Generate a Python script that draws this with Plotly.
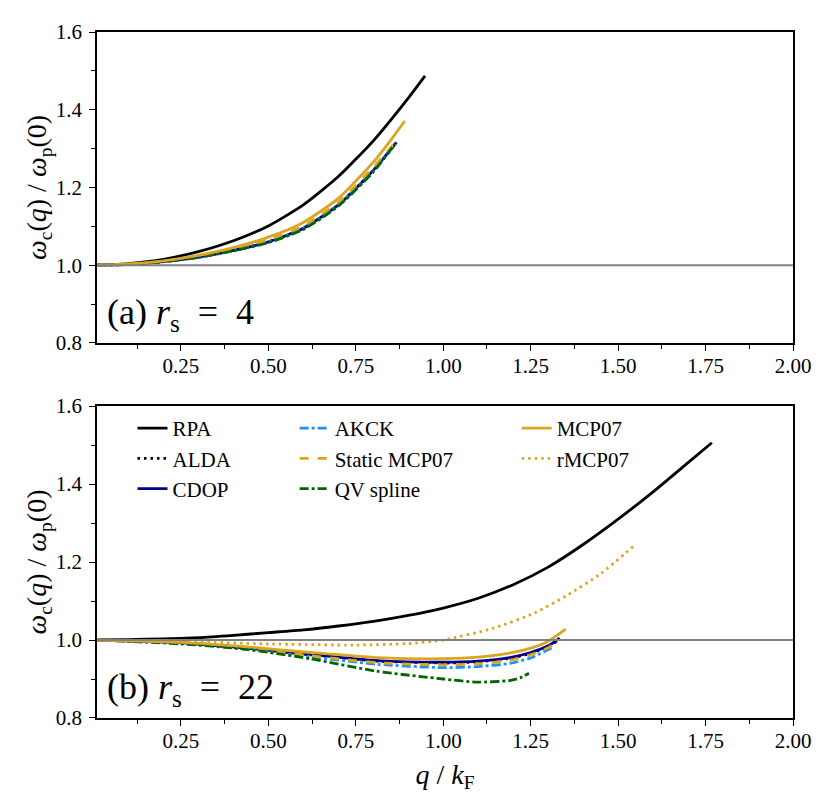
import plotly.graph_objects as go

# ---- panel (a): r_s = 4 ----
q_rpa_a = [0.01, 0.1, 0.2, 0.3, 0.4, 0.5, 0.6, 0.7, 0.8, 0.9, 0.948]
w_rpa_a = [1.0, 1.004, 1.015, 1.035, 1.063, 1.101, 1.155, 1.228, 1.32, 1.43, 1.487]

q_alda_a = [0.01, 0.1, 0.2, 0.3, 0.4, 0.5, 0.6, 0.7, 0.8, 0.865]
w_alda_a = [1.0, 1.002, 1.009, 1.021, 1.038, 1.06, 1.095, 1.155, 1.244, 1.314]

q_cdop_a = [0.01, 0.1, 0.2, 0.3, 0.4, 0.5, 0.6, 0.7, 0.8, 0.866]
w_cdop_a = [1.0, 1.002, 1.009, 1.021, 1.038, 1.06, 1.095, 1.155, 1.244, 1.316]

q_akck_a = [0.01, 0.1, 0.2, 0.3, 0.4, 0.5, 0.6, 0.7, 0.8, 0.862]
w_akck_a = [1.0, 1.002, 1.009, 1.02, 1.038, 1.059, 1.094, 1.154, 1.242, 1.312]

q_smcp_a = [0.01, 0.1, 0.2, 0.3, 0.4, 0.5, 0.6, 0.7, 0.8, 0.867]
w_smcp_a = [1.0, 1.003, 1.01, 1.023, 1.041, 1.065, 1.101, 1.162, 1.252, 1.32]

q_qv_a = [0.01, 0.1, 0.2, 0.3, 0.4, 0.5, 0.6, 0.7, 0.8, 0.862]
w_qv_a = [1.0, 1.002, 1.009, 1.02, 1.037, 1.058, 1.092, 1.152, 1.24, 1.312]

q_mcp_a = [0.01, 0.1, 0.2, 0.3, 0.4, 0.5, 0.6, 0.7, 0.8, 0.85, 0.89]
w_mcp_a = [1.0, 1.003, 1.011, 1.025, 1.045, 1.072, 1.11, 1.172, 1.265, 1.322, 1.371]

# ---- panel (b): r_s = 22 ----
q_rpa_b = [0.01, 0.1, 0.2, 0.3, 0.4, 0.5, 0.6, 0.7, 0.8, 0.9, 1.0, 1.1, 1.2,
           1.3, 1.4, 1.5, 1.6, 1.7, 1.768]
w_rpa_b = [1.0, 1.001, 1.003, 1.006, 1.012, 1.019, 1.026, 1.036, 1.048, 1.063,
           1.082, 1.107, 1.142, 1.187, 1.245, 1.31, 1.38, 1.455, 1.506]

q_alda_b = [0.01, 0.25, 0.43, 0.62, 0.81, 1.0, 1.1, 1.19, 1.25, 1.3, 1.33]
w_alda_b = [1.0, 0.993, 0.979, 0.962, 0.946, 0.941, 0.944, 0.953, 0.966, 0.983, 1.0]

q_cdop_b = [0.01, 0.25, 0.43, 0.62, 0.81, 1.0, 1.1, 1.19, 1.25, 1.3, 1.333]
w_cdop_b = [1.0, 0.993, 0.98, 0.963, 0.947, 0.943, 0.946, 0.955, 0.968, 0.985, 1.005]

q_akck_b = [0.01, 0.25, 0.43, 0.62, 0.81, 1.0, 1.1, 1.19, 1.25, 1.31]
w_akck_b = [1.0, 0.992, 0.977, 0.957, 0.938, 0.929, 0.932, 0.94, 0.954, 0.98]

q_smcp_b = [0.01, 0.25, 0.43, 0.62, 0.81, 1.0, 1.1, 1.19, 1.25, 1.3, 1.325]
w_smcp_b = [1.0, 0.992, 0.978, 0.96, 0.942, 0.936, 0.939, 0.948, 0.962, 0.98, 0.995]

q_qv_b = [0.01, 0.25, 0.43, 0.62, 0.81, 1.0, 1.095, 1.19, 1.22, 1.245]
w_qv_b = [1.0, 0.99, 0.977, 0.952, 0.92, 0.90, 0.892, 0.896, 0.903, 0.915]

q_mcp_b = [0.01, 0.25, 0.43, 0.62, 0.81, 1.0, 1.1, 1.2, 1.25, 1.3, 1.35]
w_mcp_b = [1.0, 0.994, 0.983, 0.968, 0.955, 0.952, 0.956, 0.968, 0.979, 0.997, 1.028]

q_rmcp_b = [0.01, 0.25, 0.5, 0.75, 0.9, 1.0, 1.146, 1.26, 1.355, 1.45, 1.55]
w_rmcp_b = [1.0, 0.996, 0.99, 0.987, 0.991, 1.0, 1.031, 1.069, 1.115, 1.17, 1.245]

x_ticks = [0.25, 0.5, 0.75, 1.0, 1.25, 1.5, 1.75, 2.0]
y_ticks = [0.8, 1.0, 1.2, 1.4, 1.6]

SERIF = "Liberation Serif"
GOLD = "#DAA520"

# name -> (colour, dash, legend, rank)
styles = {
    "RPA": ("black", "solid", "legend", 1),
    "ALDA": ("black", "2.5px,4px", "legend", 2),
    "CDOP": ("#00008B", "solid", "legend", 3),
    "AKCK": ("#1E90FF", "dashdot", "legend2", 1),
    "Static MCP07": (GOLD, "dash", "legend2", 2),
    "QV spline": ("#006400", "dashdot", "legend2", 3),
    "MCP07": (GOLD, "solid", "legend3", 1),
    "rMCP07": (GOLD, "2.5px,4px", "legend3", 2),
}

panel_a = [
    ("RPA", q_rpa_a, w_rpa_a), ("ALDA", q_alda_a, w_alda_a),
    ("CDOP", q_cdop_a, w_cdop_a), ("AKCK", q_akck_a, w_akck_a),
    ("Static MCP07", q_smcp_a, w_smcp_a), ("QV spline", q_qv_a, w_qv_a),
    ("MCP07", q_mcp_a, w_mcp_a),
]
panel_b = [
    ("RPA", q_rpa_b, w_rpa_b), ("ALDA", q_alda_b, w_alda_b),
    ("CDOP", q_cdop_b, w_cdop_b), ("AKCK", q_akck_b, w_akck_b),
    ("Static MCP07", q_smcp_b, w_smcp_b), ("QV spline", q_qv_b, w_qv_b),
    ("MCP07", q_mcp_b, w_mcp_b), ("rMCP07", q_rmcp_b, w_rmcp_b),
]

fig = go.Figure()

for axes, panel, show in [(("x", "y"), panel_a, False), (("x2", "y2"), panel_b, True)]:
    for name, q, w in panel:
        color, dash, leg, rank = styles[name]
        fig.add_trace(go.Scatter(
            x=q, y=w, mode="lines", name=name,
            line=dict(color=color, dash=dash, width=2.8, shape="spline", smoothing=0.6),
            xaxis=axes[0], yaxis=axes[1],
            showlegend=show, legend=leg, legendrank=rank,
        ))

# reference line at 1
for yref in ["y", "y2"]:
    fig.add_shape(type="line", xref="paper", yref=yref, x0=0, x1=1, y0=1, y1=1,
                  line=dict(color="#808080", width=2))

axis_common = dict(
    showline=True, linecolor="black", linewidth=1.5, mirror=True,
    showgrid=False, zeroline=False, ticks="outside", ticklen=6, tickwidth=1.2,
    tickcolor="black", tickfont=dict(family=SERIF, size=21, color="black"),
)
xcommon = dict(axis_common, range=[0.01, 2.0], tickvals=x_ticks, tickformat=".2f",
               ticklabelstandoff=-3,
               minor=dict(dtick=0.125, tick0=0, ticks="outside", ticklen=4,
                          tickcolor="black", tickwidth=1))
ycommon = dict(axis_common, range=[0.8, 1.6], tickvals=y_ticks, tickformat=".1f",
               ticklabelstandoff=3,
               minor=dict(dtick=0.1, tick0=0, ticks="outside", ticklen=4,
                          tickcolor="black", tickwidth=1))

ylabel = "<i>ω</i><sub>c</sub>(<i>q</i>) / <i>ω</i><sub>p</sub>(0)"
title_font = dict(family=SERIF, size=28, color="black")
leg_font = dict(family=SERIF, size=21, color="black")

# page body adds an 8px offset, so the figure is sized to fit inside it
fig.update_layout(
    width=815, height=790,
    margin=dict(l=89, r=25, t=15, b=80),
    paper_bgcolor="white", plot_bgcolor="white",
    font=dict(family=SERIF, color="black"),
    xaxis=dict(xcommon, anchor="y"),
    yaxis=dict(ycommon, domain=[0.5468, 1.0], anchor="x",
               title=dict(text=ylabel, font=title_font, standoff=0)),
    xaxis2=dict(xcommon, anchor="y2",
                title=dict(text="<i>q</i> / <i>k</i><sub>F</sub>", font=title_font, standoff=12)),
    yaxis2=dict(ycommon, domain=[0.0, 0.4547], anchor="x2",
                title=dict(text=ylabel, font=title_font, standoff=0)),
    legend=dict(x=0.051, y=0.452, xanchor="left", yanchor="top",
                bgcolor="rgba(0,0,0,0)", font=leg_font),
    legend2=dict(x=0.284, y=0.452, xanchor="left", yanchor="top",
                 bgcolor="rgba(0,0,0,0)", font=leg_font),
    legend3=dict(x=0.603, y=0.452, xanchor="left", yanchor="top",
                 bgcolor="rgba(0,0,0,0)", font=leg_font),
)

for xref, yref, txt in [("x domain", "y domain", "(a) <i>r</i><sub>s</sub>\u2002=\u20024"),
                        ("x2 domain", "y2 domain", "(b) <i>r</i><sub>s</sub>\u2002=\u200222")]:
    fig.add_annotation(xref=xref, yref=yref, x=0.011, y=0.09, xanchor="left",
                       yanchor="middle", text=txt, showarrow=False,
                       font=dict(family=SERIF, size=36, color="black"))

fig.write_html("out.html")
